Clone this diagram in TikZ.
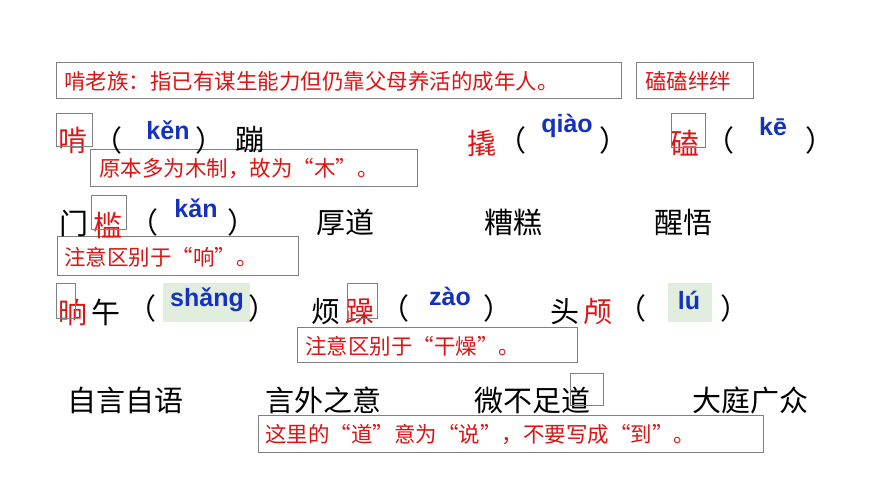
\documentclass[tikz,border=0pt]{standalone}
\usepackage{fontspec}
\newfontfamily\cjk{Noto Sans CJK SC}
\newfontfamily\py{Liberation Sans Bold}
\definecolor{rd}{RGB}{220,20,20}
\definecolor{bl}{RGB}{20,50,190}
\definecolor{gb}{RGB}{128,128,128}
\definecolor{gr}{RGB}{225,238,222}
\begin{document}
\begin{tikzpicture}[x=1pt,y=-1pt,
  note/.style={text=rd,font=\cjk\fontsize{21.5}{24}\selectfont,anchor=west,inner sep=0pt},
  ch/.style={font=\cjk\fontsize{29}{31}\selectfont,text=black,inner sep=0pt},
  rch/.style={ch,text=rd},
  pyn/.style={font=\py\fontsize{25}{27}\selectfont,text=bl,inner sep=0pt},
  mk/.style={draw=gb,line width=1pt}]
\useasboundingbox (0,0) rectangle (870,489);
\fill[white] (0,0) rectangle (870,489);
% notes
\draw[mk] (56,63) rectangle (621,99); \node[note] (n1) at (64,81) {啃老族：指已有谋生能力但仍靠父母养活的成年人。};
\draw[mk] (636,63) rectangle (753,99); \node[note] (n2) at (645,81) {磕磕绊绊};
\draw[mk] (90,150) rectangle (417,187); \node[note] (n3) at (99,169) {原本多为木制，故为“木”。};
\draw[mk] (57,237) rectangle (298,275); \node[note] (n4) at (64,257) {注意区别于“响”。};
\draw[mk] (297,327) rectangle (577,362); \node[note] (n5) at (305,346) {注意区别于“干燥”。};
\draw[mk] (258,415) rectangle (763,452); \node[note] (n6) at (265,435) {这里的“道”意为“说”，不要写成“到”。};
% row1
\node[rch] (a1) at (73,140) {啃};
\draw[mk] (56,114) rectangle (92,147);
\node[ch] (a2) at (108,140) {（};
\node[pyn] (a3) at (168,130) {kěn};
\node[ch] (a4) at (210,140) {）};
\node[ch] (a5) at (250,140) {蹦};
\node[rch] (b1) at (482,143) {撬};
\node[ch] (b2) at (512,140) {（};
\node[pyn] (b3) at (567,126) {qiào};
\node[ch] (b4) at (614,140) {）};
\node[rch] (c1) at (685,143) {磕};
\draw[mk] (671,114) rectangle (705,148);
\node[ch] (c2) at (720,140) {（};
\node[pyn] (c3) at (773,127) {kē};
\node[ch] (c4) at (820,140) {）};
% row2
\node[ch] (d1) at (74,223) {门};
\node[rch] (d2) at (108,225) {槛};
\draw[mk] (91,196) rectangle (126,230);
\node[ch] (d3) at (144,222) {（};
\node[pyn] (d4) at (196,208) {kǎn};
\node[ch] (d5) at (242,222) {）};
\node[ch] (d6) at (345,222) {厚道};
\node[ch] (d7) at (513,222) {糟糕};
\node[ch] (d8) at (683,222) {醒悟};
% row3
\fill[gr] (163,283) rectangle (250,322);
\fill[gr] (668,283) rectangle (712,322);
\node[rch] (e1) at (73,312) {晌};
\node[ch] (e2) at (106,312) {午};
\draw[mk] (56,283) rectangle (75,318);
\node[ch] (e3) at (142,308) {（};
\node[pyn] (e4) at (207,300) {shǎng};
\node[ch] (e5) at (263,308) {）};
\node[ch] (f1) at (326,312) {烦};
\node[rch] (f2) at (360,312) {躁};
\draw[mk] (347,283) rectangle (377,318);
\node[ch] (f3) at (395,308) {（};
\node[pyn] (f4) at (450,296) {zào};
\node[ch] (f5) at (498,308) {）};
\node[ch] (g1) at (565,312) {头};
\node[rch] (g2) at (598,312) {颅};
\node[ch] (g3) at (632,308) {（};
\node[pyn] (g4) at (689,300) {lú};
\node[ch] (g5) at (735,308) {）};
% row4
\node[ch] (h1) at (125,400) {自言自语};
\node[ch] (h2) at (323,400) {言外之意};
\node[ch] (h3) at (532,400) {微不足道};
\draw[mk] (570,373) rectangle (603,405);
\node[ch] (h4) at (750,400) {大庭广众};
\end{tikzpicture}
\end{document}
